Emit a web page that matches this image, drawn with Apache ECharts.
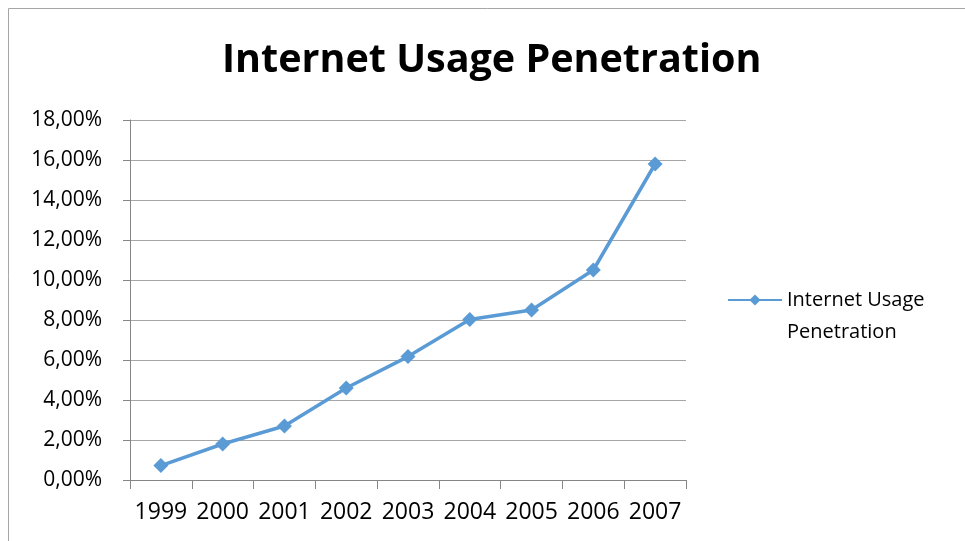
<!DOCTYPE html>
<html><head><meta charset="utf-8">
<script src="https://cdn.jsdelivr.net/npm/echarts@6/dist/echarts.min.js"></script>
<style>html,body{margin:0;padding:0;background:#fff;}#c{width:965px;height:541px;}</style>
</head><body><div id="c"></div>
<script>
const years = ['1999','2000','2001','2002','2003','2004','2005','2006','2007'];
const penetration = [0.0072, 0.018, 0.027, 0.046, 0.0617, 0.0802, 0.085, 0.105, 0.158];
const seriesName = 'Internet Usage Penetration';
const chart = echarts.init(document.getElementById('c'));
const fontFam = '"Open Sans", sans-serif';
chart.setOption({
  animation: false,
  backgroundColor: '#fff',
  graphic: [{type:'rect', shape:{x:8.5,y:8.5,width:1000,height:1000}, style:{fill:'none', stroke:'#a6a6a6', lineWidth:1}, silent:true}],
  title: {text: 'Internet Usage Penetration', left: 222, top: 41,
    textStyle: {fontFamily: fontFam, fontWeight: 'bold', fontSize: 39.5, color: '#000'}, padding:0},
  grid: {left: 130, right: 279, top: 120, bottom: 61},
  legend: {orient:'vertical', left: 727, top: 252, itemWidth: 54, itemHeight: 14, itemGap: 0, padding: 0,
    formatter: () => '\nInternet Usage\nPenetration',
    textStyle: {fontFamily: fontFam, fontSize: 20, color: '#000', lineHeight: 32}, data:[seriesName]},
  xAxis: {type:'category', data: years, boundaryGap: true,
    axisLine: {lineStyle:{color:'#868686', width:1}},
    axisTick: {show:true, interval: 0, length: 9, lineStyle:{color:'#868686'}},
    axisLabel: {interval: 0, hideOverlap: false, fontFamily: fontFam, fontSize: 23, color:'#000', margin: 21}},
  yAxis: {type:'value', min: 0, max: 0.18, interval: 0.02,
    axisLine: {show:true, lineStyle:{color:'#868686', width:1}},
    axisTick: {show:true, length: 7, lineStyle:{color:'#868686'}},
    splitLine: {lineStyle:{color:'#a6a6a6', width:1}},
    axisLabel: {fontFamily: fontFam, fontSize: 21, color:'#000', margin: 28,
      formatter: v => (v*100).toFixed(2).replace('.', ',') + '%'}},
  series: [{name: seriesName, type:'line', data: penetration, symbol:'diamond', symbolSize: 15,
    lineStyle:{color:'#5b9bd5', width:3.5}, itemStyle:{color:'#5b9bd5'}}]
});
</script></body></html>
